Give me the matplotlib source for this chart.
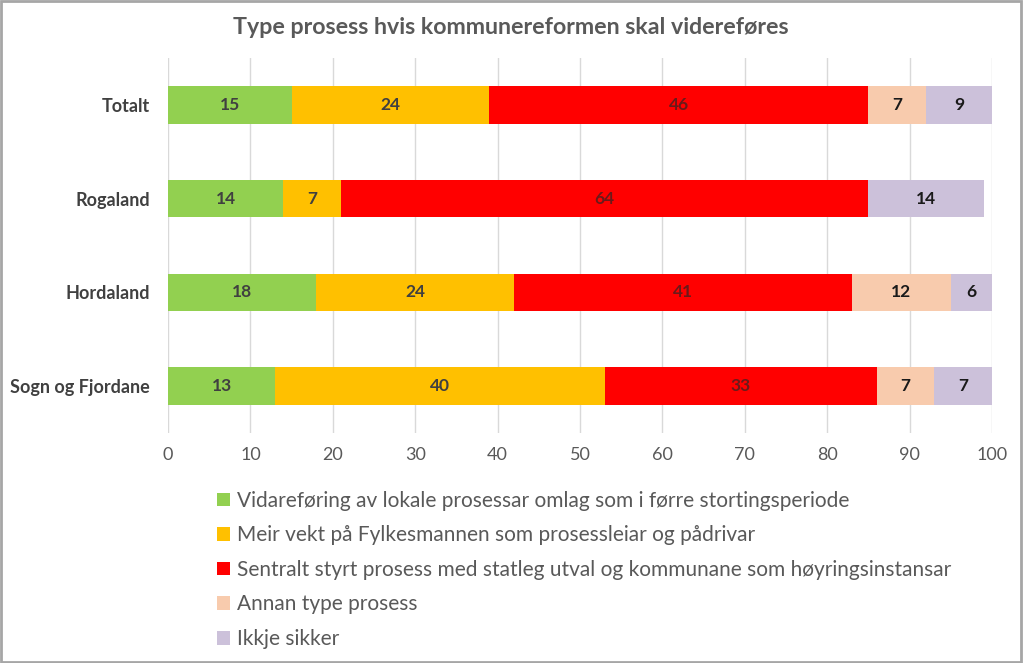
import matplotlib
matplotlib.use("Agg")
import matplotlib.pyplot as plt
from matplotlib.patches import Rectangle
import numpy as np

plt.rcParams['font.family'] = ['Lato', 'DejaVu Sans']

categories = ["Totalt", "Rogaland", "Hordaland", "Sogn og Fjordane"]
series_names = [
    "Vidareføring av lokale prosessar omlag som i førre stortingsperiode",
    "Meir vekt på Fylkesmannen som prosessleiar og pådrivar",
    "Sentralt styrt prosess med statleg utval og kommunane som høyringsinstansar",
    "Annan type prosess",
    "Ikkje sikker",
]
vidareforing = [15, 14, 18, 13]
fylkesmannen = [24, 7, 24, 40]
sentralt = [46, 64, 41, 33]
annan = [7, 0, 12, 7]
ikkje_sikker = [8, 14, 5, 7]
# labels as printed in the chart
vidareforing_lbl = [15, 14, 18, 13]
fylkesmannen_lbl = [24, 7, 24, 40]
sentralt_lbl = [46, 64, 41, 33]
annan_lbl = [7, None, 12, 7]
ikkje_sikker_lbl = [9, 14, 6, 7]
xticks = [0, 10, 20, 30, 40, 50, 60, 70, 80, 90, 100]

colors = ["#92D050", "#FFC000", "#FF0000", "#F8CBAD", "#CCC1DA"]
label_colors = ["#404040", "#404040", "#6B1A1A", "#1A1A1A", "#1A1A1A"]

W, H = 1023, 663
fig = plt.figure(figsize=(W / 100, H / 100), dpi=100)
ax = fig.add_axes([168 / W, 1 - 433 / H, (992 - 168) / W, (433 - 58) / H])

series = [vidareforing, fylkesmannen, sentralt, annan, ikkje_sikker]
labels = [vidareforing_lbl, fylkesmannen_lbl, sentralt_lbl, annan_lbl, ikkje_sikker_lbl]
y = np.arange(len(categories))
left = np.zeros(len(categories))
handles = []
for vals, lbls, name, c, lc in zip(series, labels, series_names, colors, label_colors):
    vals = np.array(vals, dtype=float)
    bars = ax.barh(y, vals, left=left, height=0.4, color=c, label=name, zorder=3)
    handles.append(bars)
    for i, (v, l) in enumerate(zip(vals, lbls)):
        if l is not None and v > 0:
            ax.text(left[i] + v / 2, y[i], str(l), ha='center', va='center',
                    fontsize=12.5, fontweight='bold', color=lc, zorder=4)
    left += vals

ax.set_xlim(0, 100)
ax.set_ylim(3.5, -0.5)
ax.set_xticks(xticks)
ax.set_xticklabels([str(t) for t in xticks], fontsize=13, color="#595959")
ax.set_yticks(y)
ax.set_yticklabels(categories, fontsize=13, fontweight='bold', color="#404040")
ax.tick_params(axis='both', length=0)
ax.tick_params(axis='x', pad=10)
ax.tick_params(axis='y', pad=13)
ax.grid(axis='x', color="#D9D9D9", linewidth=1, zorder=0)
for s in ax.spines.values():
    s.set_visible(False)

fig.text(511 / W, 1 - 28 / H, "Type prosess hvis kommunereformen skal videreføres",
         ha='center', va='center', fontsize=16.7, fontweight='bold', color="#595959")

leg = fig.legend(handles=handles, labels=series_names, loc='upper left',
                 bbox_to_anchor=(198 / W, 1 - 472 / H), frameon=False,
                 fontsize=15, labelcolor="#595959", handlelength=0.62, handleheight=0.62,
                 handletextpad=0.35, labelspacing=0.7)

fig.patches.append(Rectangle((0.001, 0.001), 0.997, 0.997, transform=fig.transFigure,
                             fill=False, edgecolor="#A6A6A6", linewidth=2))

fig.savefig("out.png", dpi=100)
